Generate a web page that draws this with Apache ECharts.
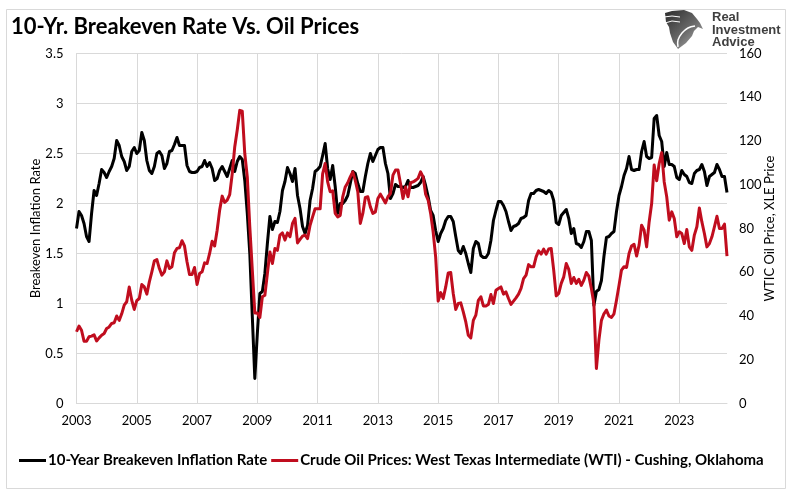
<!doctype html>
<html>
<head>
    <meta charset="UTF-8">
    <title>10-Yr. Breakeven Rate Vs. Oil Prices</title>
    <script src="https://cdn.jsdelivr.net/npm/echarts@6/dist/echarts.min.js"></script>
    <style>
        html, body { margin: 0; padding: 0; background: #fff; }
        #main { width: 791px; height: 492px; }
    </style>
</head>
<body>
<div id="main"></div>
<script>
    var titleText = '10-Yr. Breakeven Rate Vs. Oil Prices';
    var breakevenName = '10-Year Breakeven Inflation Rate';
    var oilName = 'Crude Oil Prices: West Texas Intermediate (WTI) - Cushing, Oklahoma';
    var years = [2003, 2004, 2005, 2006, 2007, 2008, 2009, 2010, 2011, 2012, 2013, 2014, 2015, 2016, 2017, 2018, 2019, 2020, 2021, 2022, 2023, 2024];

    // monthly readings, one row per year
    var breakeven = [
        1.75, 1.92, 1.88, 1.80, 1.67, 1.62, 1.90, 2.13, 2.08, 2.20, 2.34, 2.31,
        2.26, 2.32, 2.37, 2.45, 2.63, 2.58, 2.47, 2.42, 2.33, 2.37, 2.52, 2.56,
        2.50, 2.53, 2.71, 2.63, 2.43, 2.33, 2.30, 2.37, 2.50, 2.52, 2.48, 2.35,
        2.40, 2.52, 2.53, 2.59, 2.66, 2.58, 2.58, 2.58, 2.38, 2.32, 2.31, 2.31,
        2.32, 2.36, 2.37, 2.43, 2.37, 2.41, 2.35, 2.23, 2.25, 2.33, 2.37, 2.32,
        2.27, 2.35, 2.43, 2.32, 2.42, 2.47, 2.44, 2.23, 1.90, 1.50, 0.87, 0.25,
        0.70, 1.10, 1.12, 1.30, 1.60, 1.87, 1.74, 1.82, 1.81, 1.92, 2.13, 2.22,
        2.36, 2.30, 2.22, 2.35, 2.08, 1.95, 1.77, 1.70, 1.78, 2.03, 2.15, 2.32,
        2.34, 2.37, 2.48, 2.60, 2.35, 2.24, 2.38, 2.17, 1.90, 2.00, 2.00, 2.03,
        2.08, 2.20, 2.32, 2.30, 2.20, 2.12, 2.12, 2.27, 2.40, 2.50, 2.42, 2.48,
        2.54, 2.56, 2.56, 2.40, 2.30, 2.05, 2.10, 2.19, 2.17, 2.17, 2.16, 2.17,
        2.23, 2.16, 2.16, 2.17, 2.18, 2.21, 2.27, 2.18, 2.07, 1.93, 1.88, 1.73,
        1.62, 1.70, 1.75, 1.83, 1.87, 1.87, 1.82, 1.67, 1.53, 1.50, 1.57, 1.50,
        1.40, 1.31, 1.55, 1.62, 1.60, 1.48, 1.46, 1.46, 1.50, 1.63, 1.83, 1.93,
        2.02, 2.02, 1.98, 1.92, 1.82, 1.73, 1.77, 1.78, 1.80, 1.85, 1.86, 1.88,
        2.03, 2.10, 2.10, 2.13, 2.14, 2.13, 2.12, 2.10, 2.13, 2.11, 2.03, 1.81,
        1.79, 1.88, 1.91, 1.94, 1.85, 1.70, 1.75, 1.60, 1.59, 1.56, 1.62, 1.72,
        1.72, 1.63, 0.98, 1.12, 1.14, 1.23, 1.47, 1.66, 1.67, 1.70, 1.72, 1.92,
        2.08, 2.17, 2.28, 2.35, 2.47, 2.34, 2.33, 2.34, 2.34, 2.52, 2.62, 2.47,
        2.45, 2.46, 2.85, 2.88, 2.68, 2.62, 2.37, 2.51, 2.39, 2.39, 2.37, 2.26,
        2.24, 2.33, 2.29, 2.27, 2.21, 2.20, 2.30, 2.33, 2.34, 2.39, 2.32, 2.18,
        2.27, 2.29, 2.31, 2.39, 2.34, 2.27, 2.27, 2.11
    ];
    var oil = [
        32.8, 35.4, 33.5, 28.5, 28.5, 30.5, 30.8, 31.4, 28.6, 30.0, 31.2, 32.0,
        34.3, 35.0, 36.6, 36.9, 40.0, 38.0, 41.0, 45.0, 46.5, 53.3, 47.2, 43.0,
        47.0, 48.0, 54.4, 53.3, 50.0, 55.6, 60.2, 65.2, 65.8, 61.7, 58.7, 60.2,
        65.2, 61.7, 62.5, 68.9, 70.9, 71.2, 74.4, 72.0, 64.8, 59.0, 59.0, 62.2,
        54.4, 59.4, 60.2, 64.3, 64.0, 68.6, 74.2, 72.0, 79.2, 88.4, 94.8, 91.9,
        93.0, 95.5, 105.0, 117.3, 125.0, 134.0, 133.6, 114.3, 103.6, 80.8, 61.0, 41.4,
        41.4, 39.3, 48.8, 49.5, 59.4, 69.3, 64.0, 70.9, 70.0, 77.0, 78.0, 74.7,
        78.0, 76.2, 82.3, 84.6, 73.4, 75.0, 76.5, 77.0, 75.4, 81.5, 85.3, 89.0,
        89.0, 89.0, 105.0, 109.7, 101.3, 96.8, 97.2, 86.9, 85.3, 86.0, 94.5, 99.0,
        100.9, 103.6, 105.9, 102.0, 96.8, 82.3, 86.9, 94.2, 94.5, 89.9, 86.9, 87.6,
        93.7, 95.7, 93.7, 91.7, 94.5, 96.0, 104.4, 106.7, 106.7, 100.6, 93.7, 99.0,
        94.5, 100.9, 101.3, 102.0, 102.9, 105.9, 103.6, 95.7, 93.0, 86.9, 78.5, 67.0,
        46.8, 50.7, 48.0, 53.3, 59.7, 59.9, 50.3, 43.0, 45.7, 46.0, 41.9, 37.3,
        31.2, 30.0, 38.0, 40.4, 47.2, 48.8, 44.6, 44.6, 45.3, 49.8, 45.7, 51.8,
        52.6, 53.3, 50.0, 51.0, 48.0, 45.3, 46.8, 48.3, 50.0, 52.6, 57.1, 58.7,
        63.5, 62.5, 62.5, 67.0, 69.8, 68.3, 70.6, 68.3, 70.6, 70.9, 61.0, 49.2,
        50.3, 54.9, 57.9, 64.0, 61.3, 54.9, 57.6, 54.9, 56.8, 54.0, 56.4, 59.9,
        58.2, 52.6, 45.7, 16.0, 29.0, 38.0, 41.0, 42.7, 40.0, 39.3, 41.0, 47.2,
        54.0, 61.0, 62.5, 62.2, 68.6, 72.0, 72.8, 67.4, 72.4, 81.5, 79.2, 71.6,
        83.0, 91.4, 109.0, 101.8, 109.7, 114.7, 101.3, 94.5, 83.8, 87.6, 84.6, 76.2,
        78.5, 77.7, 73.1, 79.5, 71.6, 70.0, 77.0, 80.8, 89.4, 83.0, 77.7, 71.6,
        73.1, 76.2, 80.8, 85.6, 80.0, 80.0, 82.0, 67.4
    ];

    var categories = [];
    $years: for (var y = 0; y < years.length; y++) {
        for (var m = 1; m <= 12; m++) {
            if (categories.length === breakeven.length) {
                break $years;
            }
            categories.push(years[y] + '-' + (m < 10 ? '0' + m : m));
        }
    }

    var fontName = 'Lato';
    var gridColor = '#d9d9d9';
    var myChart = echarts.init(document.getElementById('main'), null, {renderer: 'canvas'});

    var option = {
        animation: false,
        backgroundColor: '#fff',
        textStyle: {fontFamily: fontName},
        title: {
            text: titleText,
            left: 11,
            top: 16,
            padding: 0,
            textStyle: {fontFamily: fontName, fontSize: 22, fontWeight: 'bold', color: '#000'}
        },
        legend: {
            left: 14,
            top: 448,
            itemWidth: 27,
            itemHeight: 3,
            itemGap: 4,
            icon: 'rect',
            data: [breakevenName, oilName],
            textStyle: {fontFamily: fontName, fontSize: 15, fontWeight: 'bold', color: '#000', padding: [0, 0, 0, -3]}
        },
        grid: {left: 76.5, right: 64, top: 53.5, bottom: 88.5},
        xAxis: {
            type: 'category',
            data: categories,
            boundaryGap: false,
            axisLine: {lineStyle: {color: gridColor, width: 1}},
            axisTick: {show: false},
            splitLine: {show: true, interval: 23, lineStyle: {color: gridColor, width: 1}},
            axisLabel: {
                interval: 23,
                margin: 11,
                fontFamily: fontName,
                fontSize: 13,
                color: '#000',
                formatter: function (value) {
                    return value.slice(0, 4);
                }
            }
        },
        yAxis: [
            {
                type: 'value',
                min: 0,
                max: 3.5,
                interval: 0.5,
                name: 'Breakeven Inflation Rate',
                nameLocation: 'middle',
                nameGap: 34,
                nameMoveOverlap: false,
                nameTextStyle: {fontFamily: fontName, fontSize: 13, color: '#000'},
                axisLine: {show: true, lineStyle: {color: gridColor}},
                axisTick: {show: false},
                splitLine: {lineStyle: {color: gridColor, width: 1}},
                axisLabel: {margin: 13, fontFamily: fontName, fontSize: 13, color: '#000'}
            },
            {
                type: 'value',
                min: 0,
                max: 160,
                interval: 20,
                name: 'WTIC Oil Price, XLE Price',
                nameLocation: 'middle',
                nameGap: 36,
                nameMoveOverlap: false,
                nameTextStyle: {fontFamily: fontName, fontSize: 13, color: '#000'},
                axisLine: {show: false},
                axisTick: {show: false},
                splitLine: {show: false},
                axisLabel: {margin: 12, fontFamily: fontName, fontSize: 13, color: '#000'}
            }
        ],
        series: [
            {
                name: breakevenName,
                type: 'line',
                data: breakeven,
                yAxisIndex: 0,
                showSymbol: false,
                color: '#000000',
                lineStyle: {width: 3, join: 'round'}
            },
            {
                name: oilName,
                type: 'line',
                data: oil,
                yAxisIndex: 1,
                showSymbol: false,
                z: 3,
                color: '#c00d1e',
                lineStyle: {width: 3, join: 'round'}
            }
        ],
        graphic: [
            // chart frame
            {
                type: 'rect',
                z: -1,
                shape: {x: 6.5, y: 9.5, width: 779, height: 479},
                style: {fill: 'none', stroke: '#d9d9d9', lineWidth: 1}
            },
            // logo: eagle head over a shield
            {
                type: 'polygon',
                shape: {points: [[665, 13], [672, 11], [684, 10], [692, 13], [697, 19], [700, 23], [703, 29], [698, 27], [694, 31], [692, 36], [686, 43], [678, 49], [673, 42], [670, 33], [669, 27], [666, 22]]},
                style: {
                    fill: new echarts.graphic.LinearGradient(0, 0, 1, 1, [
                        {offset: 0, color: '#2b2b2b'},
                        {offset: 0.55, color: '#6a6a6a'},
                        {offset: 1, color: '#b5b5b5'}
                    ])
                }
            },
            {
                type: 'polyline',
                shape: {points: [[664, 17], [672, 16], [680, 17]]},
                style: {fill: 'none', stroke: '#fff', lineWidth: 1}
            },
            {
                type: 'polyline',
                shape: {points: [[665, 23], [672, 21], [680, 22]]},
                style: {fill: 'none', stroke: '#fff', lineWidth: 1}
            },
            {
                type: 'polyline',
                shape: {points: [[678, 47], [678, 40], [682, 33], [688, 28], [695, 26]], smooth: 0.4},
                style: {fill: 'none', stroke: '#fff', lineWidth: 1.5}
            },
            {
                type: 'text',
                left: 712,
                top: 11,
                style: {
                    text: 'Real\nInvestment\nAdvice',
                    fontFamily: 'Liberation Sans',
                    fontSize: 13,
                    fontWeight: 'bold',
                    lineHeight: 12.5,
                    fill: '#3f3f3f'
                }
            }
        ]
    };

    myChart.setOption(option);
</script>
</body>
</html>
